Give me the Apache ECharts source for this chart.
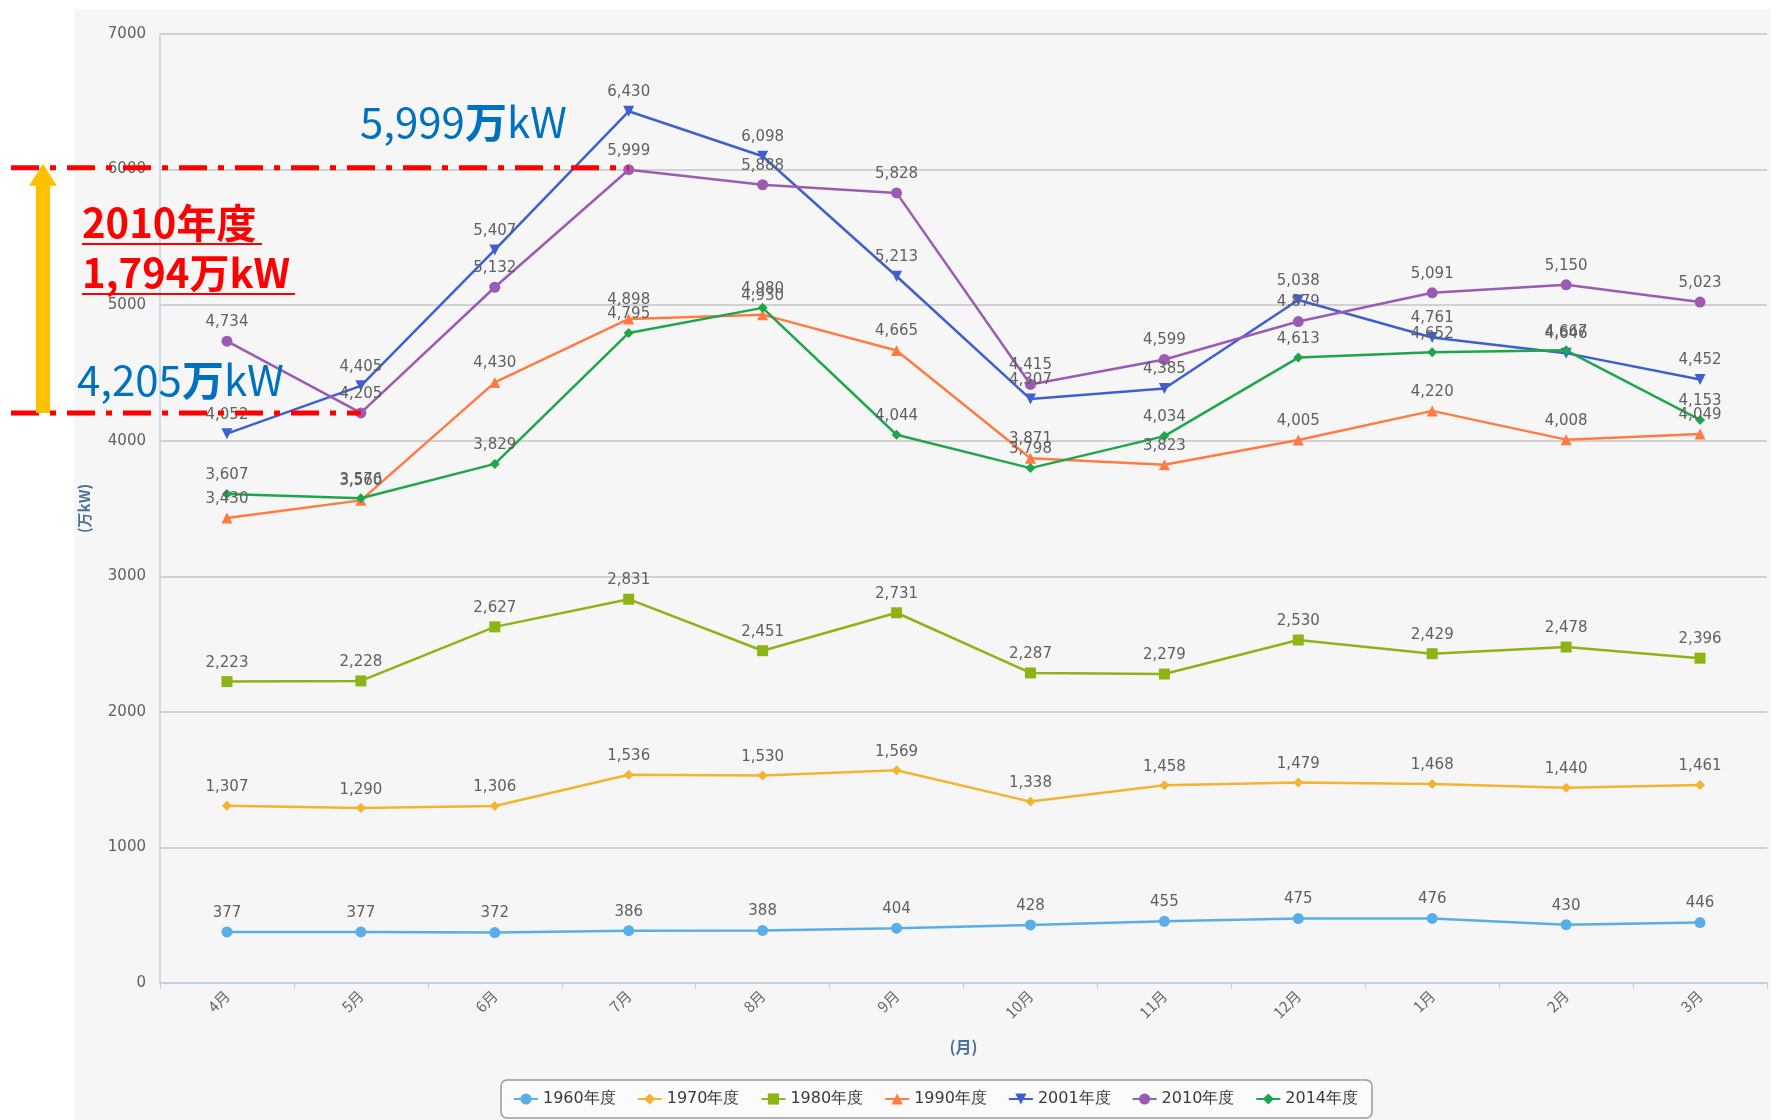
<!DOCTYPE html>
<html>
<head>
<meta charset="utf-8">
<script src="https://cdn.jsdelivr.net/npm/echarts@6/dist/echarts.min.js"></script>
<style>
html,body{margin:0;padding:0;background:#ffffff;}
#bg{position:absolute;left:74px;top:9px;width:1697px;height:1111px;background:#f6f6f6;}
#main{position:absolute;left:0;top:0;width:1787px;height:1120px;}
</style>
</head>
<body>
<div id="bg"></div>
<div id="main"></div>
<script>
const categories = ['4月','5月','6月','7月','8月','9月','10月','11月','12月','1月','2月','3月'];
const seriesNames = ['1960年度','1970年度','1980年度','1990年度','2001年度','2010年度','2014年度'];
const s1960 = [377,377,372,386,388,404,428,455,475,476,430,446];
const s1970 = [1307,1290,1306,1536,1530,1569,1338,1458,1479,1468,1440,1461];
const s1980 = [2223,2228,2627,2831,2451,2731,2287,2279,2530,2429,2478,2396];
const s1990 = [3430,3560,4430,4898,4930,4665,3871,3823,4005,4220,4008,4049];
const s2001 = [4052,4405,5407,6430,6098,5213,4307,4385,5038,4761,4646,4452];
const s2010 = [4734,4205,5132,5999,5888,5828,4415,4599,4879,5091,5150,5023];
const s2014 = [3607,3576,3829,4795,4980,4044,3798,4034,4613,4652,4667,4153];
const yMin = 0, yMax = 7000, yStep = 1000;
const peakLabel = '5,999';
const lowLabel = '4,205';
const diffLabel = '1,794';
const peakMonth = '7月', peakValue = 5999;
const lowMonth = '5月', lowValue = 4205;

const colors = ['#5aaee8','#f2b431','#8cb417','#ff7b43','#3f5fd0','#9b5bb5','#1fa64c'];
const symbols = ['circle','diamond','rect','triangle','triangle','circle','diamond'];
const symbolSizes = [11,10,11,11,11,11,10];
const symbolRotates = [0,0,0,0,180,0,0];
const allData = [s1960,s1970,s1980,s1990,s2001,s2010,s2014];

const chart = echarts.init(document.getElementById('main'), null, {renderer:'canvas'});
const series = allData.map((d,i)=>({
  name: seriesNames[i],
  type: 'line',
  data: d,
  symbol: symbols[i],
  symbolSize: symbolSizes[i],
  symbolRotate: symbolRotates[i],
  showAllSymbol: true,
  lineStyle: {width: 2.5, color: colors[i]},
  itemStyle: {color: colors[i]},
  label: {
    show: true, position: 'top', distance: 6,
    color: '#606060', fontSize: 15, fontFamily: 'DejaVu Sans',
    formatter: p => p.value.toLocaleString('en-US')
  },
  labelLayout: {hideOverlap: false},
  emphasis: {disabled: true},
  animation: false
}));

chart.setOption({
  backgroundColor: 'transparent',
  animation: false,
  color: colors,
  grid: {left: 160, right: 20, top: 34, bottom: 137, containLabel: false, outerBoundsMode: 'none'},
  legend: {
    data: seriesNames,
    left: 501, top: 1080,
    padding: [11, 14, 11, 12],
    itemGap: 21, itemWidth: 24, itemHeight: 14,
    borderColor: '#9a9a9a', borderWidth: 1.5, borderRadius: 6,
    backgroundColor: '#fbfbfb',
    textStyle: {fontSize: 16, color: '#3a3a3a', fontFamily: 'DejaVu Sans'}
  },
  xAxis: {
    type: 'category', data: categories, boundaryGap: true,
    name: '(月)', nameLocation: 'middle', nameGap: 56,
    nameTextStyle: {color: '#4d6f99', fontSize: 16, fontWeight: 'bold', fontFamily: 'Noto Sans CJK JP'},
    axisLine: {lineStyle: {color: '#c0d0e0', width: 1.5}},
    axisTick: {show: true, alignWithLabel: false, length: 6, lineStyle: {color: '#c0d0e0'}},
    axisLabel: {rotate: 45, color: '#666', fontSize: 15, margin: 10, fontFamily: 'Noto Sans CJK JP'},
    splitLine: {show: false}
  },
  yAxis: {
    type: 'value', min: yMin, max: yMax, interval: yStep,
    name: '(万kW)', nameLocation: 'middle', nameGap: 68, nameRotate: 90,
    nameTextStyle: {color: '#4d6f99', fontSize: 15, fontWeight: 'bold', fontFamily: 'Noto Sans CJK JP'},
    axisLine: {show: true, lineStyle: {color: '#c0d0e0', width: 1.5}},
    axisTick: {show: false},
    axisLabel: {color: '#606060', fontSize: 15, margin: 14, fontFamily: 'DejaVu Sans', formatter: v => String(v)},
    splitLine: {lineStyle: {color: '#c4c4c4', width: 1.5}}
  },
  series: series
});

const pPeak = chart.convertToPixel({gridIndex: 0}, [peakMonth, peakValue]);
const pLow = chart.convertToPixel({gridIndex: 0}, [lowMonth, lowValue]);
const dash = [28, 11, 6, 11];
const arrowX = 43;
const blueRich = {
  n: {fontSize: 42, fill: '#0070c0', fontFamily: 'Noto Sans CJK JP', fontWeight: 'normal'},
  m: {fontSize: 42, fill: '#0070c0', fontFamily: 'Noto Sans CJK JP', fontWeight: 'bold'}
};
chart.setOption({
  graphic: [
    {type: 'line', z: 100, shape: {x1: 11, y1: pPeak[1] - 2, x2: pPeak[0], y2: pPeak[1] - 2},
      style: {stroke: '#ff0000', lineWidth: 5, lineDash: dash}},
    {type: 'line', z: 100, shape: {x1: 11, y1: pLow[1], x2: pLow[0], y2: pLow[1]},
      style: {stroke: '#ff0000', lineWidth: 5, lineDash: dash}},
    {type: 'rect', z: 101, shape: {x: arrowX - 7, y: pPeak[1] + 14, width: 14, height: pLow[1] - pPeak[1] - 14},
      style: {fill: '#ffc000'}},
    {type: 'polygon', z: 101, shape: {points: [[arrowX, pPeak[1] - 6], [arrowX - 14, pPeak[1] + 16], [arrowX + 14, pPeak[1] + 16]]},
      style: {fill: '#ffc000'}},
    {type: 'text', z: 102, x: 360, y: 122,
      style: {text: '{n|' + peakLabel + '}{m|万}{n|kW}', rich: blueRich, fill: '#0070c0', verticalAlign: 'middle', align: 'left'}},
    {type: 'text', z: 102, x: 77, y: 380,
      style: {text: '{n|' + lowLabel + '}{m|万}{n|kW}', rich: blueRich, fill: '#0070c0', verticalAlign: 'middle', align: 'left'}},
    {type: 'text', z: 102, x: 82, y: 223,
      style: {text: '2010年度', fontSize: 40, fontWeight: 'bold', fill: '#ff0000', fontFamily: 'Noto Sans CJK JP', verticalAlign: 'middle', align: 'left'}},
    {type: 'line', z: 102, shape: {x1: 82, y1: 244, x2: 262, y2: 244}, style: {stroke: '#ff0000', lineWidth: 2}},
    {type: 'text', z: 102, x: 82, y: 273,
      style: {text: diffLabel + '万kW', fontSize: 40, fontWeight: 'bold', fill: '#ff0000', fontFamily: 'Noto Sans CJK JP', verticalAlign: 'middle', align: 'left'}},
    {type: 'line', z: 102, shape: {x1: 82, y1: 294, x2: 295, y2: 294}, style: {stroke: '#ff0000', lineWidth: 2}}
  ]
});
</script>
</body>
</html>
